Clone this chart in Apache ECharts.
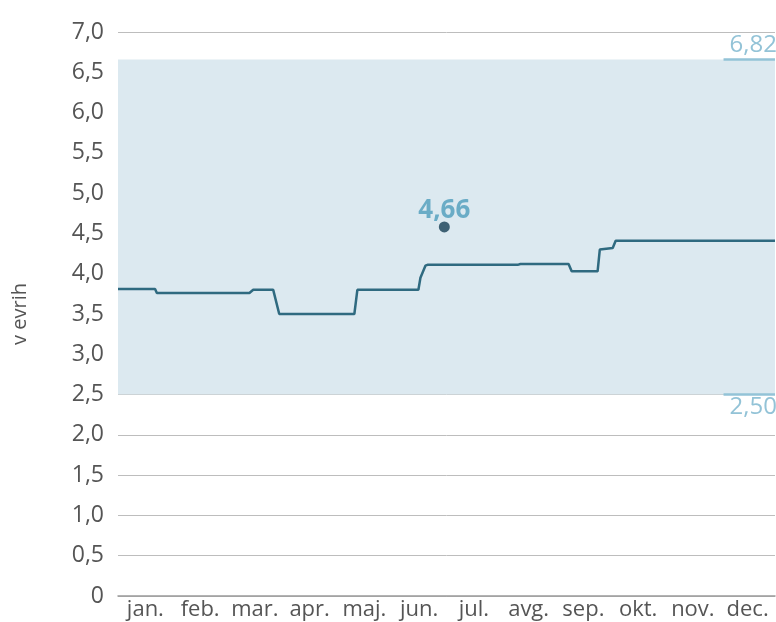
<!DOCTYPE html>
<html><head><meta charset="utf-8">
<script src="https://cdn.jsdelivr.net/npm/echarts@6/dist/echarts.min.js"></script>
<style>html,body{margin:0;padding:0;background:#fff}#c{width:776px;height:622px}</style>
</head><body><div id="c"></div>
<script>
const months = ['jan.','feb.','mar.','apr.','maj.','jun.','jul.','avg.','sep.','okt.','nov.','dec.'];
const yTicks = [0,0.5,1,1.5,2,2.5,3,3.5,4,4.5,5,5.5,6,6.5,7];
// line: position in months (0..12), value
const lineX = [0, 0.677, 0.71, 2.40, 2.47, 2.835, 2.945, 4.317, 4.372, 5.487, 5.524, 5.56, 5.615, 5.652, 7.30, 7.35, 8.23, 8.286, 8.76, 8.80, 9.036, 9.09, 12];
const lineY = [3.81, 3.81, 3.76, 3.76, 3.80, 3.80, 3.50, 3.50, 3.80, 3.80, 3.95, 3.97, 4.10, 4.11, 4.11, 4.12, 4.12, 4.03, 4.03, 4.30, 4.32, 4.41, 4.41];
const pointX = [5.96];
const pointY = [4.58];
const pointLabel = ['4,66'];
const bandLow = 2.5, bandHigh = 6.66;
const bandLabels = ['2,50','6,82'];
const bandLabelStart = 11.06;

const font = 'Open Sans';
const chart = echarts.init(document.getElementById('c'));
chart.setOption({
  animation:false,
  grid:{left:118,right:1,top:32,bottom:26},
  xAxis:[
    {type:'value',min:0,max:12,show:false},
    {type:'category',data:months,boundaryGap:true,position:'bottom',
     axisLine:{lineStyle:{color:'#9a9a9a',width:1.5}},
     axisTick:{inside:true,length:5,lineStyle:{color:'#9a9a9a'}},
     axisLabel:{color:'#555',fontSize:22,fontFamily:font,margin:3,interval:0},
     splitLine:{show:false}}
  ],
  yAxis:{type:'value',min:0,max:7,interval:0.5,
    name:'v evrih',nameLocation:'middle',nameGap:88,nameRotate:90,
    nameTextStyle:{color:'#555',fontSize:20,fontFamily:font},
    axisLine:{show:false},axisTick:{show:false},
    axisLabel:{color:'#555',fontSize:23,fontFamily:font,margin:14,
      formatter:v=> v===0?'0':v.toFixed(1).replace('.',',')},
    splitLine:{lineStyle:{color:'#bdbdbd',width:1}}},
  series:[
    {type:'line',xAxisIndex:0,data:[],silent:true,
     markArea:{silent:true,itemStyle:{color:'#dce9f0'},
       data:[[{coord:[0,bandLow]},{coord:[12,bandHigh]}]]},
     markLine:{silent:true,symbol:'none',
       lineStyle:{color:'#93c3d7',width:2.5,type:'solid'},
       data:[
         [{coord:[bandLabelStart,bandHigh],label:{show:true,position:'insideEndTop',formatter:bandLabels[1],distance:[-2,2]}},{coord:[12,bandHigh]}],
         [{coord:[bandLabelStart,bandLow],label:{show:true,position:'insideEndBottom',formatter:bandLabels[0],distance:[-2,1]}},{coord:[12,bandLow]}]
       ],
       label:{color:'#93c3d7',fontSize:24,fontFamily:font}}
    },
    {type:'line',xAxisIndex:0,showSymbol:false,z:3,
     lineStyle:{color:'#2f6a80',width:2.5},
     data:lineX.map((x,i)=>[x,lineY[i]])},
    {type:'scatter',xAxisIndex:0,symbolSize:11,z:4,
     itemStyle:{color:'#173f55'},
     label:{show:true,position:'top',distance:-2,formatter:p=>pointLabel[p.dataIndex],
       color:'#4e9cbc',fontSize:26,fontWeight:'bold',fontFamily:font},
     data:pointX.map((x,i)=>[x,pointY[i]])}
  ]
});
</script></body></html>
